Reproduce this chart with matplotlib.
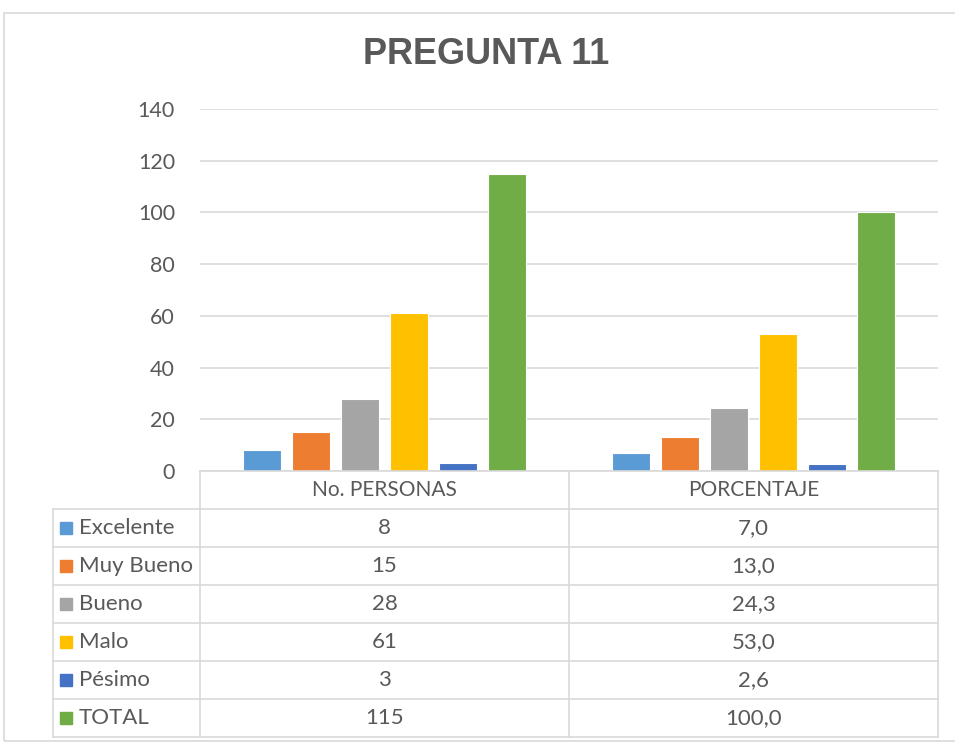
import numpy as np
import matplotlib.pyplot as plt
from matplotlib.patches import Rectangle

# datos
categorias = ["No. PERSONAS", "PORCENTAJE"]
series = ["Excelente", "Muy Bueno", "Bueno", "Malo", "Pésimo", "TOTAL"]
personas = [8, 15, 28, 61, 3, 115]
porcentaje = [7.0, 13.0, 24.3, 53.0, 2.6, 100.0]
colores = ["#5B9BD5", "#ED7D31", "#A5A5A5", "#FFC000", "#4472C4", "#70AD47"]

W, H = 955, 742
gris = "#595959"
linea = "#D9D9D9"
fuente = "Lato"

fig = plt.figure(figsize=(W / 100, H / 100), dpi=100)

def fx(px):
    return px / W

def fy(py):
    return 1 - py / H

# borde exterior del grafico
fig.patches.append(Rectangle((fx(4), fy(741)), fx(960) - fx(4), fy(13) - fy(741),
                             transform=fig.transFigure, fill=False,
                             edgecolor=linea, lw=1.2))

# area de trazado
x0, x1 = 200, 938
ytop, ybot = 109, 471
ax = fig.add_axes([fx(x0), fy(ybot), fx(x1) - fx(x0), fy(ytop) - fy(ybot)])
ax.set_xlim(0, 2)
ax.set_ylim(0, 140)
ax.set_yticks(np.arange(0, 141, 20))
ax.grid(axis="y", color=linea, lw=1.2)
ax.set_axisbelow(True)
for s in ax.spines.values():
    s.set_visible(False)
ax.set_xticks([])
ax.tick_params(axis="y", length=0, pad=18, labelsize=15.5, labelcolor=gris)
for t in ax.get_yticklabels():
    t.set_fontfamily(fuente)

valores = np.array([personas, porcentaje])
n = len(series)
paso = 49 / 369
ancho = 38 / 369
for i in range(n):
    xs = np.arange(2) + 0.5 + (i - (n - 1) / 2) * paso
    ax.bar(xs, valores[:, i], width=ancho, color=colores[i], edgecolor="white", lw=0.8)

# tabla de datos
fila_h = 38
y_cab = ybot
cols = [53, x0, 569, x1]
filas_y = [y_cab + fila_h * k for k in range(n + 2)]

def hline(y, xa, xb):
    fig.add_artist(plt.Line2D([fx(xa), fx(xb)], [fy(y), fy(y)], color=linea, lw=1.2,
                              transform=fig.transFigure))

def vline(x, ya, yb):
    fig.add_artist(plt.Line2D([fx(x), fx(x)], [fy(ya), fy(yb)], color=linea, lw=1.2,
                              transform=fig.transFigure))

hline(filas_y[0], x0, x1)
for y in filas_y[1:]:
    hline(y, cols[0], x1)
vline(cols[0], filas_y[1], filas_y[-1])
for x in cols[1:]:
    vline(x, filas_y[0], filas_y[-1])

# encabezados
for j, c in enumerate(categorias):
    cx = (cols[j + 1] + cols[j + 2]) / 2
    fig.text(fx(cx), fy(y_cab + fila_h / 2), c, ha="center", va="center",
             fontsize=15, color=gris, family=fuente)

for i, s in enumerate(series):
    cy = filas_y[i + 1] + fila_h / 2
    fig.patches.append(Rectangle((fx(60), fy(cy + 6)), fx(12), fy(0) - fy(12),
                                 transform=fig.transFigure, color=colores[i]))
    fig.text(fx(79), fy(cy), s, ha="left", va="center", fontsize=16, color=gris, family=fuente)
    fig.text(fx((cols[1] + cols[2]) / 2), fy(cy), f"{personas[i]}", ha="center", va="center",
             fontsize=16, color=gris, family=fuente)
    fig.text(fx((cols[2] + cols[3]) / 2), fy(cy), f"{porcentaje[i]:.1f}".replace(".", ","),
             ha="center", va="center", fontsize=16, color=gris, family=fuente)

# titulo
fig.text(fx(486), fy(55), "PREGUNTA 11", ha="center", va="center", fontsize=26,
         fontweight="bold", color=gris, family="Liberation Sans")

fig.savefig("out.png", dpi=100, facecolor="white")
